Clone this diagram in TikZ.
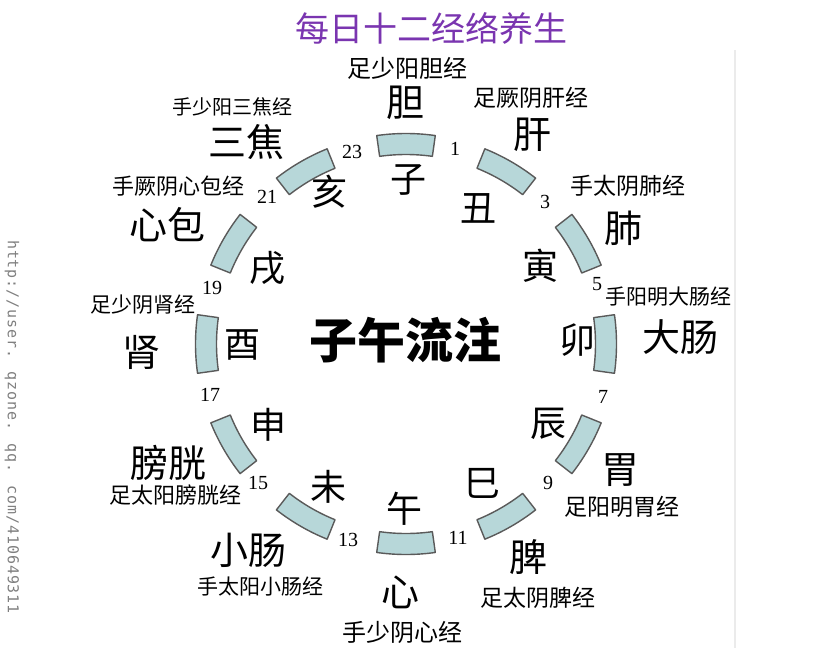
\documentclass[tikz,border=0pt]{standalone}
\usepackage{fontspec}
\setmainfont{Liberation Serif}
\newfontfamily\cjk{Noto Sans CJK SC}
\newfontfamily\wmfont[LetterSpace=6]{DejaVu Sans Mono}
\definecolor{segfill}{HTML}{B7D7D9}
\definecolor{segdraw}{HTML}{5A5A5A}
\definecolor{titlecol}{HTML}{7A35B0}
\tikzset{
  lab/.style={font=\cjk\fontsize{#1}{#1}\selectfont, inner sep=0pt},
  lab/.default=22,
  organ/.style={font=\cjk\fontsize{38}{38}\selectfont, inner sep=0pt},
  branch/.style={font=\cjk\fontsize{36}{36}\selectfont, inner sep=0pt},
  num/.style={font=\fontsize{20}{20}\selectfont, inner sep=0pt},
  seg/.style={draw=segdraw, fill=segfill, line width=1.4pt, line join=round}
}
\begin{document}
\begin{tikzpicture}[x=1pt,y=-1pt]
\useasboundingbox (0,0) rectangle (829,648);
\fill[white] (0,0) rectangle (829,648);
\coordinate (vtop) at (735,50);
\coordinate (vbot) at (735,648);
\draw[black!8, line width=1.5pt] (vtop) -- (vbot);
% segments
\begin{scope}[shift={(406,344)}]
\foreach \k in {0,...,11}{
  \pgfmathsetmacro\sa{-98+30*\k}
  \pgfmathsetmacro\ea{-82+30*\k}
  \draw[seg] (\sa:189.5) arc[start angle=\sa, end angle=\ea, radius=189.5]
     -- (\ea:210.5) arc[start angle=\ea, end angle=\sa, radius=210.5] -- cycle;
}
\end{scope}
% title
\node[font=\cjk\fontsize{34}{34}\selectfont, text=titlecol, inner sep=0pt] (title) at (431,28) {每日十二经络养生};
% centre
\node[font=\cjk\bfseries\fontsize{48}{48}\selectfont, inner sep=0pt] (centre) at (405,340) {子午流注};
% meridian labels
\node[lab=24] (l0) at (407,68) {足少阳胆经};
\node[lab=23] (l1) at (531,98) {足厥阴肝经};
\node[lab=23] (l2) at (628,186) {手太阴肺经};
\node[lab=21] (l3) at (668,297) {手阳明大肠经};
\node[lab=23] (l4) at (622,507) {足阳明胃经};
\node[lab=23] (l5) at (538,598) {足太阴脾经};
\node[lab=24] (l6) at (402,632) {手少阴心经};
\node[lab=21] (l7) at (260,587) {手太阳小肠经};
\node[lab=22] (l8) at (175,495) {足太阳膀胱经};
\node[lab=21] (l9) at (143,305) {足少阴肾经};
\node[lab=22] (l10) at (178,186) {手厥阴心包经};
\node[lab=20] (l11) at (232,107) {手少阳三焦经};
% organs
\node[organ] (o0) at (405,103) {胆};
\node[organ] (o1) at (532,135) {肝};
\node[organ] (o2) at (623,228) {肺};
\node[organ] (o3) at (680,337) {大肠};
\node[organ] (o4) at (620,470) {胃};
\node[organ] (o5) at (528,557) {脾};
\node[organ] (o6) at (400,592) {心};
\node[organ] (o7) at (248,550) {小肠};
\node[organ] (o8) at (168,463) {膀胱};
\node[organ] (o9) at (141,352) {肾};
\node[organ] (o10) at (167,225) {心包};
\node[organ] (o11) at (246,142) {三焦};
% branches
\node[branch] (b0) at (408,180) {子};
\node[branch] (b1) at (478,208) {丑};
\node[branch] (b2) at (540,266) {寅};
\node[branch] (b3) at (577,340) {卯};
\node[branch] (b4) at (548,424) {辰};
\node[branch] (b5) at (482,483) {巳};
\node[branch] (b6) at (404,509) {午};
\node[branch] (b7) at (328,487) {未};
\node[branch] (b8) at (268,425) {申};
\node[branch] (b9) at (242,345) {酉};
\node[branch] (b10) at (267,268) {戌};
\node[branch] (b11) at (329,192) {亥};
% hours
\node[num] (h1) at (455,149) {1};
\node[num] (h3) at (545,202) {3};
\node[num] (h5) at (597,284) {5};
\node[num] (h7) at (603,397) {7};
\node[num] (h9) at (548,483) {9};
\node[num] (h11) at (458,538) {11};
\node[num] (h13) at (348,540) {13};
\node[num] (h15) at (258,483) {15};
\node[num] (h17) at (210,395) {17};
\node[num] (h19) at (212,288) {19};
\node[num] (h21) at (267,197) {21};
\node[num] (h23) at (352,152) {23};
% watermark
\node[font=\wmfont\fontsize{15}{15}\selectfont, text=black!50, rotate=-90, inner sep=0pt] (wm) at (12,427) {http://user. qzone. qq. com/410649311};
\end{tikzpicture}
\end{document}
